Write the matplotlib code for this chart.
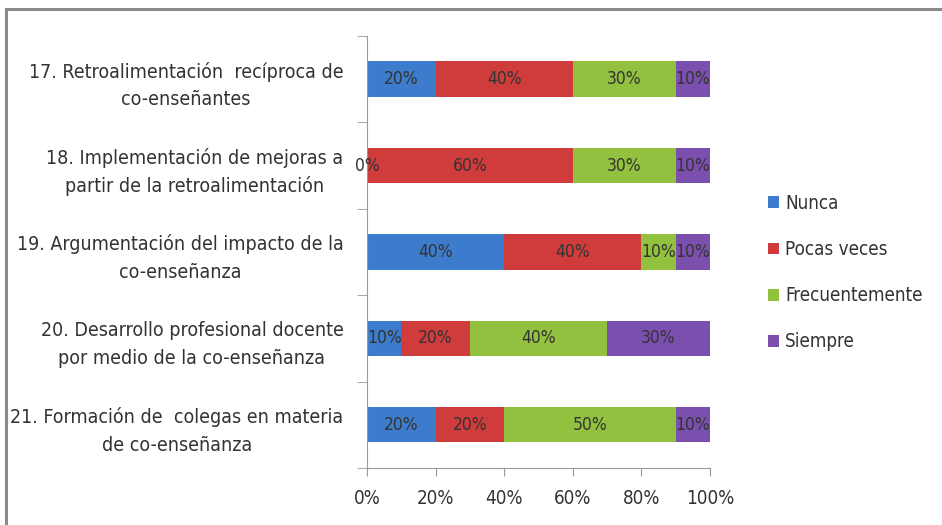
import numpy as np
import matplotlib.pyplot as plt
from matplotlib.lines import Line2D
from matplotlib.ticker import FixedLocator, PercentFormatter

plt.rcParams['font.family'] = ['DejaVu Sans']
plt.rcParams['font.stretch'] = 'condensed'

preguntas = ['17. Retroalimentación  recíproca de\nco-enseñantes',
             '18. Implementación de mejoras a\npartir de la retroalimentación',
             '19. Argumentación del impacto de la\nco-enseñanza',
             '20. Desarrollo profesional docente\npor medio de la co-enseñanza',
             '21. Formación de  colegas en materia\nde co-enseñanza']
series = ['Nunca', 'Pocas veces', 'Frecuentemente', 'Siempre']
nunca = [20, 0, 40, 10, 20]
pocas = [40, 60, 40, 20, 20]
frecuente = [30, 30, 10, 40, 50]
siempre = [10, 10, 10, 30, 10]
colores = ['#3d7ccc', '#d03b3b', '#92c03f', '#7b4fae']

fig = plt.figure(figsize=(9.42, 5.25), dpi=100)
ax = fig.add_axes([0.3896, 0.1086, 0.3641, 0.8229])

y = np.arange(len(preguntas))
izq = np.zeros(len(preguntas))
for nombre, vals, c in zip(series, [nunca, pocas, frecuente, siempre], colores):
    vals = np.array(vals, dtype=float)
    ax.barh(y, vals, left=izq, height=0.41, color=c, label=nombre)
    for yi, l, v in zip(y, izq, vals):
        ax.text(l + v / 2, yi, f'{v:.0f}%', ha='center', va='center',
                fontsize=12.5, color='#333333')
    izq += vals

ax.set_xlim(0, 100)
ax.set_ylim(len(preguntas) - 0.5, -0.5)
ax.set_xticks(np.arange(0, 101, 20))
ax.xaxis.set_major_formatter(PercentFormatter(decimals=0))
ax.set_yticks(y)
ax.set_yticklabels(preguntas, fontsize=14, color='#333333',
                   multialignment='center', linespacing=1.55)
ax.yaxis.set_minor_locator(FixedLocator(np.arange(-0.5, len(preguntas), 1)))
ax.tick_params(axis='y', which='major', length=0, pad=17)
ax.tick_params(axis='y', which='minor', length=7, color='#999999')
ax.tick_params(axis='x', length=6, color='#999999', labelsize=13.5,
               labelcolor='#333333', pad=9)
for s in ['top', 'right']:
    ax.spines[s].set_visible(False)
for s in ['left', 'bottom']:
    ax.spines[s].set_color('#999999')

ax.legend(loc='center left', bbox_to_anchor=(1.12, 0.452), frameon=False,
          fontsize=13.5, handlelength=0.6, handleheight=0.6, handletextpad=0.3,
          labelspacing=1.45, labelcolor='#333333')

# marco exterior
fig.add_artist(Line2D([0.006, 0.006], [0, 0.983], color='#8a8a8a', lw=2.2))
fig.add_artist(Line2D([0.006, 1.0], [0.983, 0.983], color='#8a8a8a', lw=2.2))

fig.savefig('out.png', dpi=100)
